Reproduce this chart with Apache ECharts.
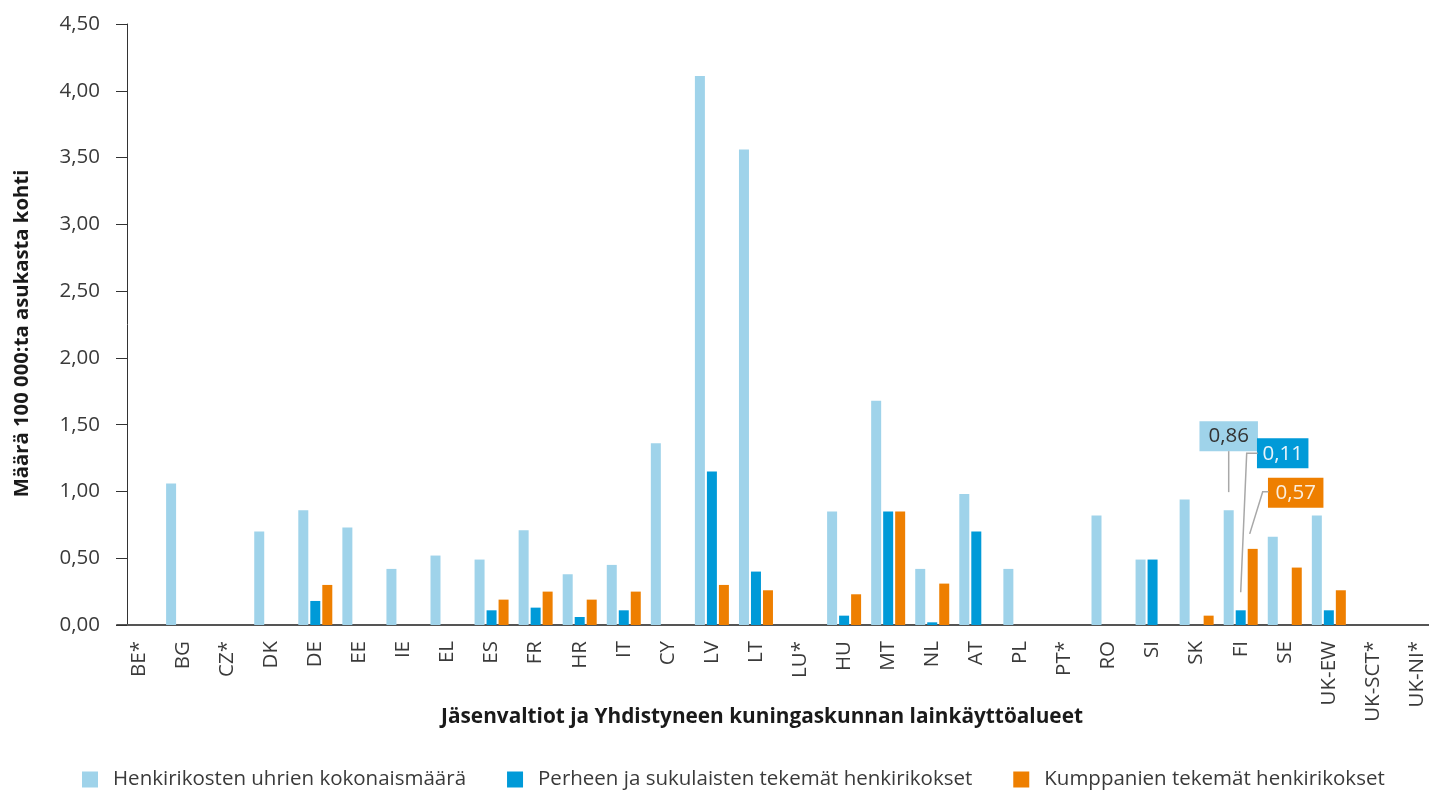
<!DOCTYPE html>
<html>
<head>
<meta charset="utf-8">
<script src="https://cdn.jsdelivr.net/npm/echarts@6/dist/echarts.min.js"></script>
<style>
html,body{margin:0;padding:0;background:#fff;}
#chart{width:1429px;height:790px;}
</style>
</head>
<body>
<div id="chart"></div>
<script>
const categories = ['BE*','BG','CZ*','DK','DE','EE','IE','EL','ES','FR','HR','IT','CY','LV','LT','LU*','HU','MT','NL','AT','PL','PT*','RO','SI','SK','FI','SE','UK-EW','UK-SCT*','UK-NI*'];
const seriesNames = ['Henkirikosten uhrien kokonaismäärä','Perheen ja sukulaisten tekemät henkirikokset','Kumppanien tekemät henkirikokset'];
const totalVictims = [null,1.06,null,0.70,0.86,0.73,0.42,0.52,0.49,0.71,0.38,0.45,1.36,4.11,3.56,null,0.85,1.68,0.42,0.98,0.42,null,0.82,0.49,0.94,0.86,0.66,0.82,null,null];
const familyHomicides = [null,null,null,null,0.18,null,null,null,0.11,0.13,0.06,0.11,null,1.15,0.40,null,0.07,0.85,0.02,0.70,null,null,null,0.49,null,0.11,null,0.11,null,null];
const partnerHomicides = [null,null,null,null,0.30,null,null,null,0.19,0.25,0.19,0.25,null,0.30,0.26,null,0.23,0.85,0.31,null,null,null,null,null,0.07,0.57,0.43,0.26,null,null];
const yTicks = {min:0, max:4.5, interval:0.5};
const highlightCategory = 'FI';

const colors = ['#9fd3ea','#009ad8','#ee7f00'];
const labelText = ['#333333','#e8f4fb','#fbeedd'];
const labelPadX = [9, 5.5, 7.5];
const FONT = '"Open Sans", sans-serif';
const TXT = '#3a3a3a';
const hiIdx = categories.indexOf(highlightCategory);
const allSeries = [totalVictims, familyHomicides, partnerHomicides];

// label-box placement relative to bar top centre, and leader-line bends (offsets in px)
const labelShift = [[0,-54],[42,-137],[43,-36]];
const leaderBends = [
  [[0,-18],[0,-59]],
  [[0,-18],[6,-157],[17,-157]],
  [[-3,-15],[10,-57],[16,-57]]
];
const BAR_W = 10, BAR_STEP = 12;

function fmt(v){ return v.toFixed(2).replace('.', ','); }

function buildSeries(values, i){
  return {
    name: seriesNames[i],
    type: 'bar',
    barWidth: BAR_W,
    barGap: '20%',
    itemStyle: {color: colors[i]},
    data: values.map(function(v, k){
      if (k !== hiIdx || v == null) return v;
      return {
        value: v,
        label: {
          show: true,
          position: 'top',
          formatter: function(p){ return fmt(p.value); },
          backgroundColor: colors[i],
          color: labelText[i],
          fontFamily: FONT,
          fontSize: 20.5,
          padding: [5, labelPadX[i], 4, labelPadX[i]]
        }
      };
    }),
    labelLayout: {dx: labelShift[i][0], dy: labelShift[i][1]}
  };
}

const chart = echarts.init(document.getElementById('chart'), null, {renderer: 'canvas'});
chart.setOption({
  animation: false,
  backgroundColor: '#ffffff',
  textStyle: {fontFamily: FONT},
  grid: {left: 117, width: 1322, top: 24, bottom: 165, containLabel: false, outerBoundsMode: 'none'},
  legend: {
    data: seriesNames,
    top: 764,
    left: 77,
    icon: 'rect',
    itemWidth: 16,
    itemHeight: 16,
    itemGap: 41,
    textStyle: {fontFamily: FONT, fontSize: 20.5, color: TXT, padding: [0,0,0,10]}
  },
  xAxis: {
    type: 'category',
    data: categories,
    name: 'Jäsenvaltiot ja Yhdistyneen kuningaskunnan lainkäyttöalueet',
    nameLocation: 'middle',
    nameGap: 82,
    nameMoveOverlap: false,
    nameTextStyle: {fontFamily: FONT, fontSize: 20.8, fontWeight: 'bold', color: '#1a1a1a', padding: [0, 32, 0, 0]},
    axisLine: {lineStyle: {color: '#555555', width: 2}},
    axisTick: {show: false},
    axisLabel: {rotate: 90, margin: 16, fontFamily: FONT, fontSize: 20.5, color: TXT, interval: 0}
  },
  yAxis: {
    type: 'value',
    min: yTicks.min,
    max: yTicks.max,
    interval: yTicks.interval,
    offset: -10,
    name: 'Määrä 100 000:ta asukasta kohti',
    nameLocation: 'middle',
    nameGap: 95,
    nameMoveOverlap: false,
    nameTextStyle: {fontFamily: FONT, fontSize: 20.3, fontWeight: 'bold', color: '#1a1a1a', padding: [0, 18, 0, 0]},
    axisLine: {show: true, lineStyle: {color: '#333333', width: 1}},
    axisTick: {show: true, length: 11, lineStyle: {color: '#333333'}},
    splitLine: {show: false},
    axisLabel: {margin: 27, fontFamily: FONT, fontSize: 20.5, color: TXT, formatter: fmt}
  },
  series: [buildSeries(totalVictims,0), buildSeries(familyHomicides,1), buildSeries(partnerHomicides,2)]
});

// leader lines for the highlighted category, anchored on the scale-derived bar tops
const leaders = allSeries.map(function(values, i){
  const p = chart.convertToPixel({xAxisIndex: 0, yAxisIndex: 0}, [hiIdx, values[hiIdx]]);
  const cx = p[0] + (i - 1) * BAR_STEP;
  const top = p[1];
  return {
    type: 'polyline',
    silent: true,
    z: 5,
    shape: {points: leaderBends[i].map(function(o){ return [cx + o[0], top + o[1]]; })},
    style: {stroke: '#a8a8a8', lineWidth: 1.5, fill: null}
  };
});
chart.setOption({graphic: {elements: leaders}});
</script>
</body>
</html>
